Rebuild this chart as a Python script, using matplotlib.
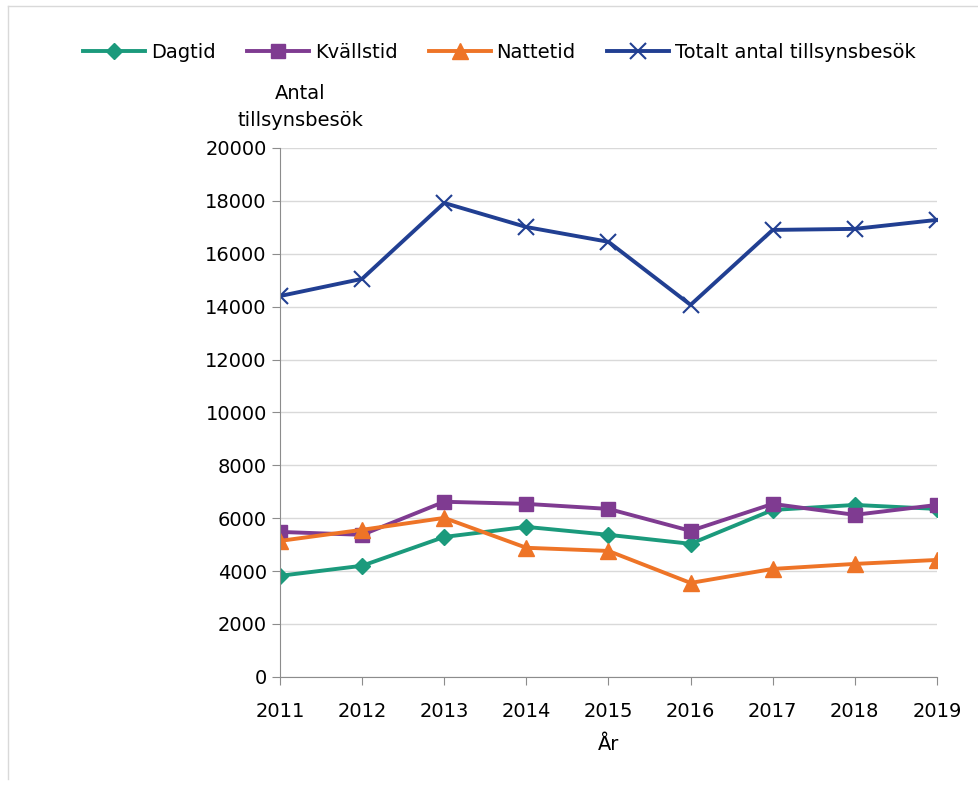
import matplotlib.pyplot as plt
from matplotlib.lines import Line2D

years = [2011, 2012, 2013, 2014, 2015, 2016, 2017, 2018, 2019]
dagtid = [3820, 4200, 5290, 5670, 5370, 5030, 6310, 6500, 6350]
kvallstid = [5480, 5370, 6620, 6540, 6350, 5520, 6540, 6125, 6500]
nattetid = [5140, 5560, 6010, 4880, 4760, 3550, 4080, 4270, 4420]
totalt = [14400, 15050, 17920, 17010, 16450, 14065, 16900, 16940, 17280]
yticks = list(range(0, 20001, 2000))

plt.rcParams.update({'font.family': 'DejaVu Sans', 'font.size': 14})

fig = plt.figure(figsize=(9.79, 7.87), dpi=100)
ax = fig.add_axes([0.286, 0.14, 0.671, 0.672])

lw = 2.8
ax.plot(years, dagtid, color='#1B9A7C', marker='D', markersize=8, lw=lw, label='Dagtid')
ax.plot(years, kvallstid, color='#7F3B91', marker='s', markersize=10, lw=lw, label='Kvällstid')
ax.plot(years, nattetid, color='#EE7427', marker='^', markersize=11, lw=lw, label='Nattetid')
ax.plot(years, totalt, color='#213F92', marker='x', markersize=11, mew=1.5, lw=lw,
        label='Totalt antal tillsynsbesök')

ax.set_xlim(2011, 2019)
ax.set_ylim(0, 20000)
ax.set_xticks(years)
ax.set_yticks(yticks)
ax.grid(axis='y', color='#d9d9d9', linewidth=1)
ax.set_axisbelow(True)
for s in ['top', 'right']:
    ax.spines[s].set_visible(False)
for s in ['left', 'bottom']:
    ax.spines[s].set_color('#8c8c8c')
ax.tick_params(colors='#8c8c8c', labelcolor='black', length=6, labelsize=14)
ax.tick_params(axis='x', pad=12)

fig.text(300 / 979, 1 - 107 / 787, 'Antal\ntillsynsbesök', ha='center', va='center',
         fontsize=14, linespacing=1.5)
fig.text(609 / 979, 1 - 745 / 787, 'År', ha='center', va='center', fontsize=14)

fig.legend(loc='center', bbox_to_anchor=(0.51, 1 - 52 / 787), ncol=4, frameon=False,
           fontsize=14, handlelength=3.2, handletextpad=0.3, columnspacing=1.6)

fig.add_artist(Line2D([8 / 979, 8 / 979], [0.01, 1 - 6 / 787], color='#d9d9d9', lw=1,
                      transform=fig.transFigure))
fig.add_artist(Line2D([8 / 979, 1.0], [1 - 6 / 787, 1 - 6 / 787], color='#d9d9d9', lw=1,
                      transform=fig.transFigure))

plt.savefig('out.png', dpi=100)
plt.close()
